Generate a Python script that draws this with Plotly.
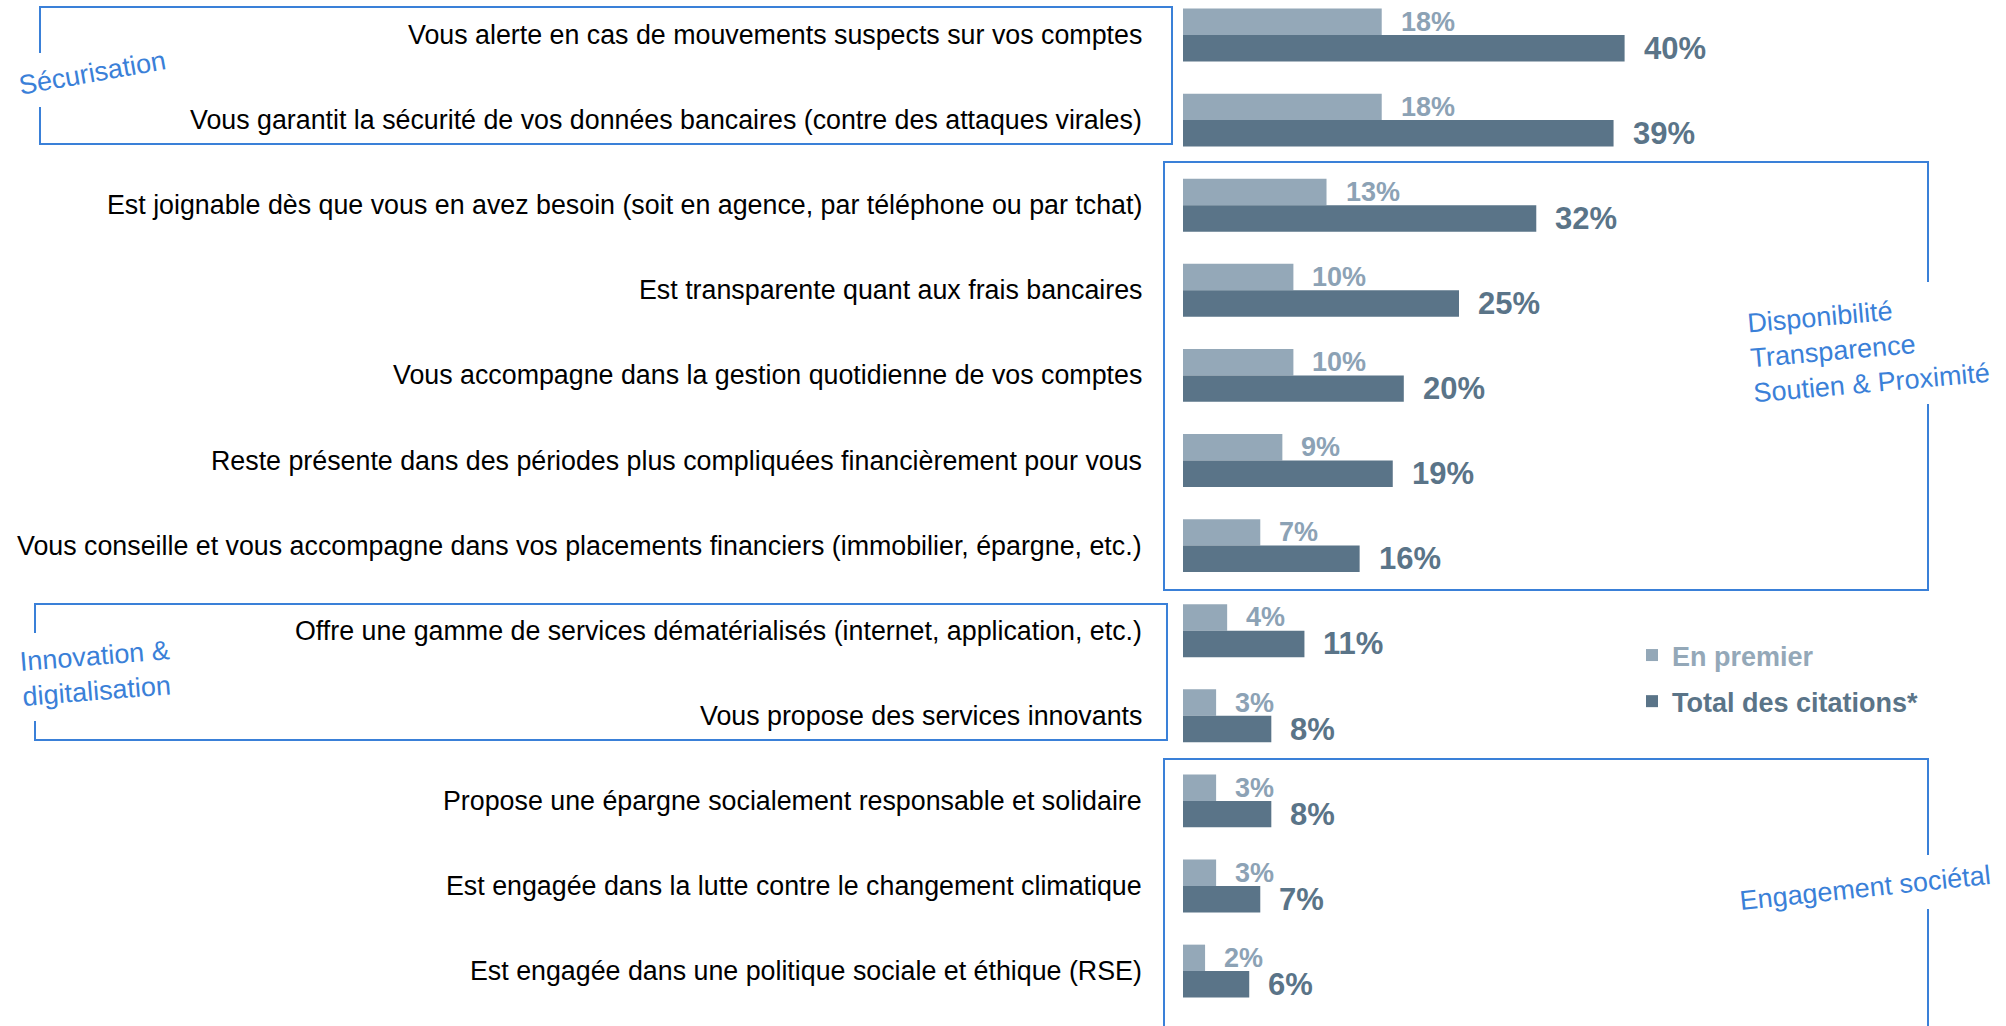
import plotly.graph_objects as go

# --- données ---------------------------------------------------------------
categories = [
    "Vous alerte en cas de mouvements suspects sur vos comptes",
    "Vous garantit la sécurité de vos données bancaires (contre des attaques virales)",
    "Est joignable dès que vous en avez besoin (soit en agence, par téléphone ou par tchat)",
    "Est transparente quant aux frais bancaires",
    "Vous accompagne dans la gestion quotidienne de vos comptes",
    "Reste présente dans des périodes plus compliquées financièrement pour vous",
    "Vous conseille et vous accompagne dans vos placements financiers (immobilier, épargne, etc.)",
    "Offre une gamme de services dématérialisés (internet, application, etc.)",
    "Vous propose des services innovants",
    "Propose une épargne socialement responsable et solidaire",
    "Est engagée dans la lutte contre le changement climatique",
    "Est engagée dans une politique sociale et éthique (RSE)",
]
en_premier = [18, 18, 13, 10, 10, 9, 7, 4, 3, 3, 3, 2]
total_citations = [40, 39, 32, 25, 20, 19, 16, 11, 8, 8, 7, 6]

groupes = ["Sécurisation",
           "Disponibilité<br>Transparence<br>Soutien & Proximité",
           "Innovation &<br>digitalisation",
           "Engagement sociétal"]

# --- style -----------------------------------------------------------------
W, H = 2006, 1026
FONT = "Liberation Sans, Arial, sans-serif"
C_LIGHT = "#94a8b8"
C_LIGHT_TXT = "#8ca2b5"
C_DARK = "#5a7488"
C_BLUE = "#3a80d8"
BAR_W = 0.311

rows = list(range(len(categories)))


def px(x):
    return x / W


def py(y):
    return 1 - y / H


fig = go.Figure()
fig.add_trace(go.Bar(
    x=en_premier, y=rows, orientation="h", width=BAR_W, offset=-BAR_W,
    marker=dict(color=C_LIGHT, line=dict(width=0)),
    name=f"<b><span style='color:{C_LIGHT}'>En premier</span></b>",
    legendgroup="a", hoverinfo="skip",
))
fig.add_trace(go.Bar(
    x=total_citations, y=rows, orientation="h", width=BAR_W, offset=0,
    marker=dict(color=C_DARK, line=dict(width=0)),
    name=f"<b><span style='color:{C_DARK}'>Total des citations*</span></b>",
    legendgroup="b", hoverinfo="skip",
))

ann = []
# libellés des items
for i, cat in enumerate(categories):
    ann.append(dict(x=0, y=i, xref="x", yref="y", text=cat, showarrow=False,
                    xanchor="right", yanchor="middle", xshift=-39,
                    font=dict(family=FONT, size=26.8, color="#000000")))
# valeurs
for i, (a, b) in enumerate(zip(en_premier, total_citations)):
    ann.append(dict(x=a, y=i - BAR_W / 2, xref="x", yref="y", text=f"<b>{a}%</b>",
                    showarrow=False, xanchor="left", yanchor="middle", xshift=17,
                    font=dict(family=FONT, size=27, color=C_LIGHT_TXT)))
    ann.append(dict(x=b, y=i + BAR_W / 2, xref="x", yref="y", text=f"<b>{b}%</b>",
                    showarrow=False, xanchor="left", yanchor="middle", xshift=17,
                    font=dict(family=FONT, size=31, color=C_DARK)))

# titres des groupes (texte incliné)
for txt, (cx, cy), ang in zip(groupes,
                              [(92, 73), (1868, 348), (96, 673), (1865, 888)],
                              [-10, -5, -4.5, -6]):
    ann.append(dict(x=px(cx), y=py(cy), xref="paper", yref="paper", text=txt,
                    showarrow=False, textangle=ang, align="left",
                    xanchor="center", yanchor="middle",
                    font=dict(family=FONT, size=27, color=C_BLUE)))

# cadres bleus (avec une ouverture là où passe le titre)
segments = [
    # Sécurisation
    [(40, 53), (40, 7), (1172, 7), (1172, 144), (40, 144), (40, 107)],
    # Disponibilité
    [(1928, 282), (1928, 162), (1164, 162), (1164, 590), (1928, 590), (1928, 404)],
    # Innovation
    [(35, 633), (35, 604), (1167, 604), (1167, 740), (35, 740), (35, 721)],
    # Engagement
    [(1928, 855), (1928, 759), (1164, 759), (1164, 1030)],
    [(1928, 909), (1928, 1030)],
]
shapes = []
for seg in segments:
    path = "M" + " L".join(f"{px(x):.5f},{py(y):.5f}" for x, y in seg)
    shapes.append(dict(type="path", path=path, xref="paper", yref="paper",
                       line=dict(color=C_BLUE, width=2)))

fig.update_layout(
    width=W, height=H,
    margin=dict(l=0, r=0, t=0, b=0),
    plot_bgcolor="white", paper_bgcolor="white",
    barmode="overlay",
    annotations=ann, shapes=shapes,
    showlegend=True,
    legend=dict(x=px(1632), y=py(631), xanchor="left", yanchor="top",
                traceorder="grouped", tracegroupgap=8,
                font=dict(family=FONT, size=27), bgcolor="rgba(0,0,0,0)"),
    xaxis=dict(domain=[px(1183), 1], range=[0, (W - 1183) / 11.04],
               visible=False, fixedrange=True),
    yaxis=dict(range=[-0.4113 + H / 85.1, -0.4113], visible=False, fixedrange=True),
)

# la page HTML garde sinon la marge par défaut du body (8 px)
fig.write_html("out.html", config={"displayModeBar": False},
               post_script="document.body.style.margin='0';")
